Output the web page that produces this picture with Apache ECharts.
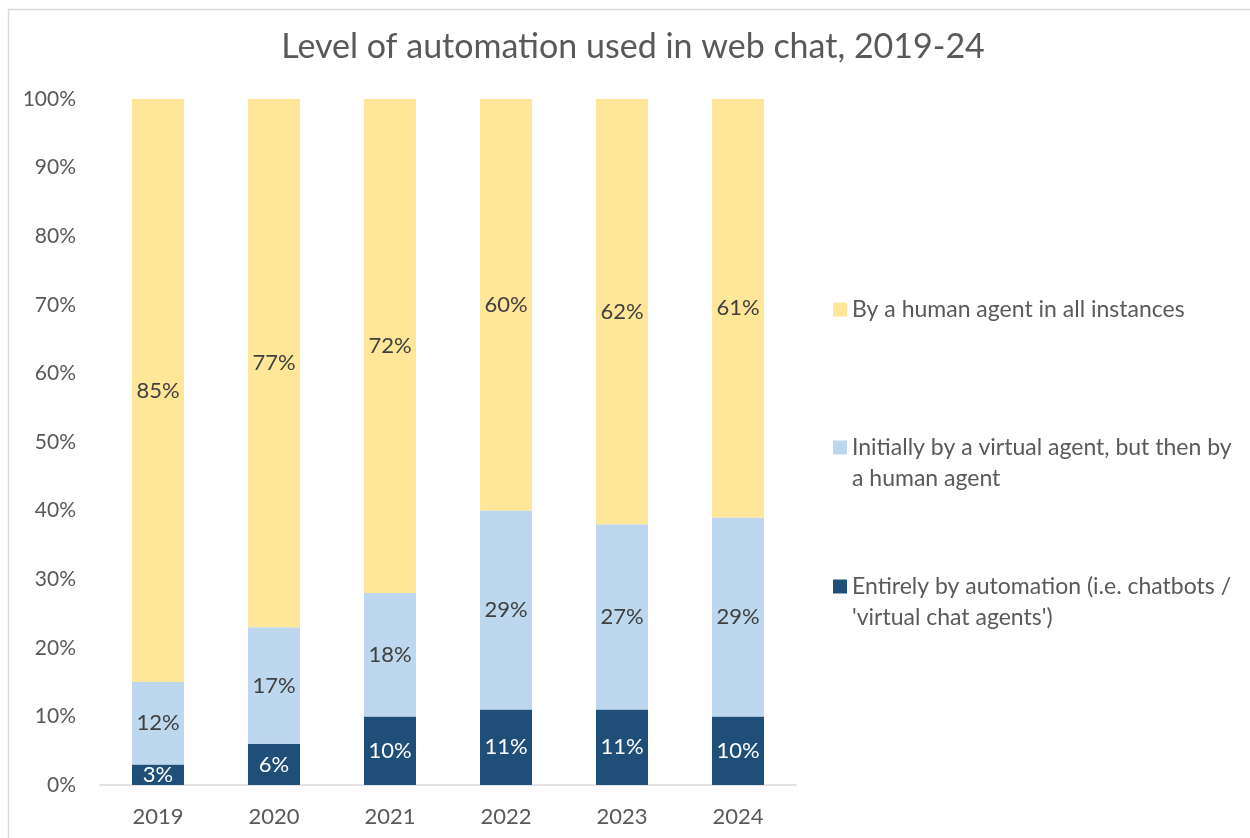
<!DOCTYPE html>
<html>
<head>
<meta charset="utf-8">
<script src="https://cdn.jsdelivr.net/npm/echarts@6/dist/echarts.min.js"></script>
<style>html,body{margin:0;padding:0;background:#fff}#c{width:1250px;height:838px}</style>
</head>
<body>
<div id="c"></div>
<script>
const titleText = 'Level of automation used in web chat, 2019-24';
const years = ['2019', '2020', '2021', '2022', '2023', '2024'];
const automation = [3, 6, 10, 11, 11, 10];
const virtualThenHuman = [12, 17, 18, 29, 27, 29];
const humanOnly = [85, 77, 72, 60, 62, 61];
const seriesNames = [
  'Entirely by automation (i.e. chatbots / \'virtual chat agents\')',
  'Initially by a virtual agent, but then by a human agent',
  'By a human agent in all instances'
];
const legendLabels = {};
legendLabels[seriesNames[0]] = '\nEntirely by automation (i.e. chatbots /\n\'virtual chat agents\')';
legendLabels[seriesNames[1]] = '\nInitially by a virtual agent, but then by\na human agent';
legendLabels[seriesNames[2]] = 'By a human agent in all instances';

const FONT = 'Lato';
const colors = ['#1F4E79', '#BDD7EE', '#FFE699'];
const labelColors = ['#ffffff', '#404040', '#404040'];
const values = [automation, virtualThenHuman, humanOnly];

const chart = echarts.init(document.getElementById('c'), null, {renderer: 'canvas'});

function legendFor(name, top) {
  return {
    orient: 'vertical',
    left: 828,
    top: top,
    data: [name],
    icon: 'rect',
    itemWidth: 14,
    itemHeight: 14,
    selectedMode: false,
    formatter: n => legendLabels[n],
    textStyle: {fontFamily: FONT, fontSize: 23, color: '#595959', lineHeight: 31}
  };
}

chart.setOption({
  animation: false,
  textStyle: {fontFamily: FONT},
  graphic: [{
    type: 'rect', shape: {x: 8.5, y: 9.5, width: 1260, height: 840},
    style: {fill: null, stroke: '#D9D9D9', lineWidth: 1.5}, silent: true, z: -10
  }],
  title: {
    text: titleText,
    left: 628, top: 25, textAlign: 'center',
    textStyle: {fontFamily: FONT, fontSize: 34, fontWeight: 'normal', color: '#595959'}
  },
  legend: [
    legendFor(seriesNames[2], 289),
    legendFor(seriesNames[1], 396),
    legendFor(seriesNames[0], 535)
  ],
  grid: {left: 100, right: 454, top: 99, bottom: 53, containLabel: false},
  xAxis: {
    type: 'category', data: years,
    axisLine: {lineStyle: {color: '#D9D9D9', width: 1.5}},
    axisTick: {show: false},
    axisLabel: {fontFamily: FONT, fontSize: 22, color: '#595959', margin: 21}
  },
  yAxis: {
    type: 'value', min: 0, max: 100, interval: 10,
    axisLine: {show: false}, axisTick: {show: false},
    splitLine: {show: false},
    axisLabel: {fontFamily: FONT, fontSize: 21, color: '#595959', margin: 24, formatter: '{value}%'}
  },
  series: values.map((v, i) => ({
    name: seriesNames[i],
    type: 'bar', stack: 'total', data: v,
    barWidth: 52,
    itemStyle: {color: colors[i]},
    label: {
      show: true, position: 'inside', formatter: '{c}%',
      fontFamily: FONT, fontSize: 22, color: labelColors[i],
      textBorderWidth: 0
    }
  }))
});
</script>
</body>
</html>
